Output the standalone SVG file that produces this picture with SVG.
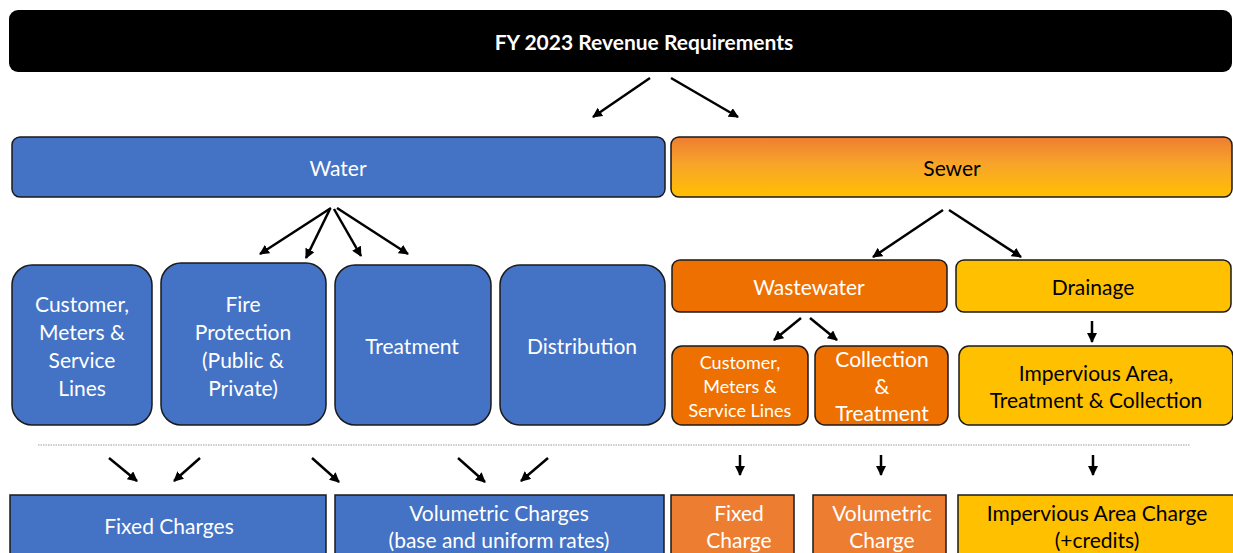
<svg xmlns="http://www.w3.org/2000/svg" width="1233" height="553" viewBox="0 0 1233 553">
  <defs>
    <linearGradient id="sewerFill" x1="0" y1="0" x2="0" y2="1">
      <stop offset="0" stop-color="#EE7D31"/>
      <stop offset="0.45" stop-color="#F8A42A"/>
      <stop offset="1" stop-color="#FFC000"/>
    </linearGradient>
    <marker id="head" viewBox="0 0 10 10" refX="9" refY="5" markerWidth="10" markerHeight="10" markerUnits="userSpaceOnUse" orient="auto">
      <path d="M0,0 L10,5 L0,10 z" fill="#000"/>
    </marker>
  </defs>
  <style>
    .box { stroke: #1a1a1a; stroke-width: 1.5; }
    .blue { fill: #4472C4; }
    .orange { fill: #EE7000; }
    .orange2 { fill: #ED7D31; }
    .yellow { fill: #FFC000; }
    text { font-family: Lato, "Open Sans", "Liberation Sans", sans-serif; font-size: 21px; text-anchor: middle; dominant-baseline: central; }
    .w { fill: #fff; }
    .k { fill: #000; }
    .conn line { stroke: #000; stroke-width: 2.5; marker-end: url(#head); }
  </style>
  <rect width="1233" height="553" fill="#fff"/>

  <g id="title">
    <rect x="9" y="10" width="1223" height="62" rx="9" fill="#000"/>
    <text x="644" y="41" class="w" style="font-weight:bold;font-size:21px">FY 2023 Revenue Requirements</text>
  </g>

  <g id="water">
    <rect class="box blue" x="12" y="137" width="653" height="60" rx="8"/>
    <text x="338" y="167" class="w">Water</text>
  </g>
  <g id="sewer">
    <rect class="box" fill="url(#sewerFill)" x="671" y="137" width="561" height="60" rx="8"/>
    <text x="952" y="167" class="k">Sewer</text>
  </g>

  <g id="water-customer">
    <rect class="box blue" x="12" y="265" width="140" height="160" rx="20"/>
    <text class="w" x="82"><tspan x="82" y="303">Customer,</tspan><tspan x="82" y="331">Meters &amp;</tspan><tspan x="82" y="359">Service</tspan><tspan x="82" y="387">Lines</tspan></text>
  </g>
  <g id="fire-protection">
    <rect class="box blue" x="161" y="263" width="165" height="162" rx="20"/>
    <text class="w" x="243"><tspan x="243" y="303">Fire</tspan><tspan x="243" y="331">Protection</tspan><tspan x="243" y="359">(Public &amp;</tspan><tspan x="243" y="387">Private)</tspan></text>
  </g>
  <g id="water-treatment">
    <rect class="box blue" x="335" y="265" width="156" height="160" rx="20"/>
    <text class="w" x="412" y="345">Treatment</text>
  </g>
  <g id="distribution">
    <rect class="box blue" x="500" y="265" width="165" height="160" rx="20"/>
    <text class="w" x="582" y="345">Distribution</text>
  </g>

  <g id="wastewater">
    <rect class="box orange" x="672" y="260" width="275" height="52" rx="8"/>
    <text class="w" x="809" y="286">Wastewater</text>
  </g>
  <g id="drainage">
    <rect class="box yellow" x="956" y="260" width="275" height="52" rx="8"/>
    <text class="k" x="1093" y="286">Drainage</text>
  </g>

  <g id="sewer-customer">
    <rect class="box orange" x="672" y="346" width="136" height="79" rx="10"/>
    <text class="w" style="font-size:18px"><tspan x="740" y="362">Customer,</tspan><tspan x="740" y="386">Meters &amp;</tspan><tspan x="740" y="410">Service Lines</tspan></text>
  </g>
  <g id="collection-treatment">
    <rect class="box orange" x="815" y="346" width="133" height="79" rx="10"/>
    <text class="w"><tspan x="882" y="358">Collection</tspan><tspan x="882" y="385">&amp;</tspan><tspan x="882" y="412">Treatment</tspan></text>
  </g>
  <g id="impervious-area">
    <rect class="box yellow" x="959" y="346" width="274" height="79" rx="10"/>
    <text class="k"><tspan x="1096" y="372">Impervious Area,</tspan><tspan x="1096" y="399">Treatment &amp; Collection</tspan></text>
  </g>

  <line x1="38" y1="445" x2="1190" y2="445" stroke="#9a9a9a" stroke-width="1" stroke-dasharray="1.5 1"/>

  <g id="fixed-charges">
    <rect class="box blue" x="10" y="495" width="316" height="70"/>
    <text class="w" x="169" y="525">Fixed Charges</text>
  </g>
  <g id="volumetric-charges">
    <rect class="box blue" x="335" y="495" width="329" height="70"/>
    <text class="w"><tspan x="499" y="512">Volumetric Charges</tspan><tspan x="499" y="539">(base and uniform rates)</tspan></text>
  </g>
  <g id="sewer-fixed">
    <rect class="box orange2" x="671" y="495" width="123" height="70"/>
    <text class="w"><tspan x="739" y="512">Fixed</tspan><tspan x="739" y="539">Charge</tspan></text>
  </g>
  <g id="sewer-volumetric">
    <rect class="box orange2" x="813" y="495" width="133" height="70"/>
    <text class="w"><tspan x="882" y="512">Volumetric</tspan><tspan x="882" y="539">Charge</tspan></text>
  </g>
  <g id="impervious-charge">
    <rect class="box yellow" x="958" y="495" width="280" height="70"/>
    <text class="k"><tspan x="1097" y="512">Impervious Area Charge</tspan><tspan x="1097" y="539">(+credits)</tspan></text>
  </g>

  <g id="connectors" class="conn">
    <line x1="650" y1="78" x2="593" y2="117"/>
    <line x1="671" y1="78" x2="738" y2="117"/>

    <line x1="331" y1="208" x2="260" y2="254"/>
    <line x1="330" y1="209" x2="306" y2="258"/>
    <line x1="334" y1="209" x2="361" y2="256"/>
    <line x1="337" y1="208" x2="408" y2="254"/>

    <line x1="943" y1="210" x2="873" y2="257"/>
    <line x1="949" y1="210" x2="1021" y2="257"/>

    <line x1="801" y1="318" x2="774" y2="340"/>
    <line x1="810" y1="318" x2="837" y2="340"/>
    <line x1="1092" y1="321" x2="1092" y2="342"/>

    <line x1="109" y1="458" x2="137" y2="481"/>
    <line x1="200" y1="458" x2="174" y2="481"/>
    <line x1="312" y1="458" x2="339" y2="482"/>
    <line x1="458" y1="458" x2="485" y2="482"/>
    <line x1="548" y1="458" x2="521" y2="481"/>
    <line x1="740" y1="455" x2="740" y2="475"/>
    <line x1="881" y1="455" x2="881" y2="475"/>
    <line x1="1093" y1="455" x2="1093" y2="475"/>
  </g>
</svg>
